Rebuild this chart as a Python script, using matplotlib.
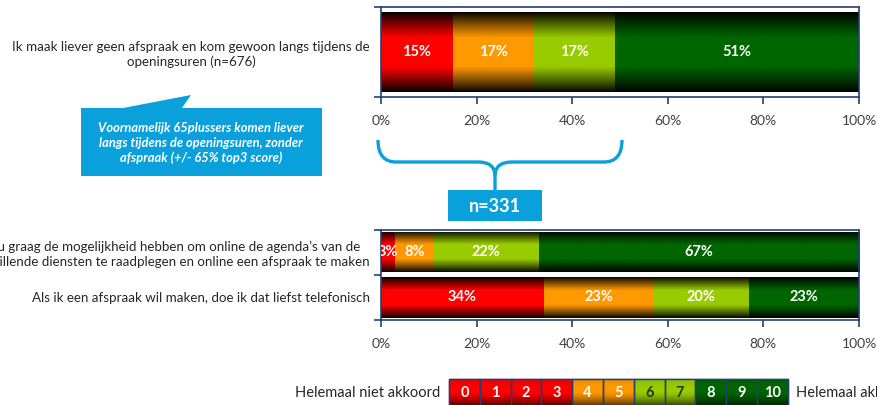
import numpy as np
import matplotlib
matplotlib.use('Agg')
import matplotlib.pyplot as plt
from matplotlib.patches import Rectangle, Polygon, PathPatch
from matplotlib.path import Path

plt.rcParams['font.family'] = ['Lato', 'DejaVu Sans']

# score groups 0-3, 4-5, 6-7, 8-10
group_colors = ['#ff0000', '#ff9900', '#99cc00', '#006600']

top_label = ['Ik maak liever geen afspraak en kom gewoon langs tijdens de\nopeningsuren (n=676)']
top_values = [[15], [17], [17], [51]]

bottom_labels = ["Ik zou graag de mogelijkheid hebben om online de agenda\u2019s van de\n"
                 "verschillende diensten te raadplegen en online een afspraak te maken",
                 'Als ik een afspraak wil maken, doe ik dat liefst telefonisch']
bottom_values = [[3, 34], [8, 23], [22, 20], [67, 23]]

x_ticks = [0, 20, 40, 60, 80, 100]
x_ticklabels = ['0%', '20%', '40%', '60%', '80%', '100%']

callout_text = ('Voornamelijk 65plussers komen liever\nlangs tijdens de openingsuren, zonder\n'
                'afspraak (+/- 65% top3 score)')
n_text = 'n=331'

scale_scores = list(range(11))
scale_groups = [0, 0, 0, 0, 1, 1, 2, 2, 3, 3, 3]
scale_left = 'Helemaal niet akkoord'
scale_right = 'Helemaal akkoord'

W, H = 878, 405
spine_col = '#243f73'
blue = '#0aa0dc'
text_col = '#262626'


def bar_shade(n=64):
    t = np.linspace(0, 1, n)
    b = np.clip(np.minimum(t, 1 - t) / 0.32, 0, 1) ** 0.9
    return 0.03 + 0.97 * b


def legend_shade(n=64):
    t = np.linspace(0, 1, n)
    return np.clip(0.92 + 0.08 * np.sin(t * np.pi * 1.2) - 0.55 * np.clip((t - 0.45) / 0.55, 0, 1) ** 1.5, 0, 1)


def shaded_fill(ax, patch, color, shade):
    rgb = np.array(matplotlib.colors.to_rgb(color))
    img = shade[:, None, None] * rgb[None, None, :]
    x, y = patch.get_x(), patch.get_y()
    w, h = patch.get_width(), patch.get_height()
    im = ax.imshow(img, extent=(x, x + w, y + h, y), aspect='auto',
                   interpolation='bilinear', zorder=patch.get_zorder() + 0.1)
    im.set_clip_path(patch)


def stacked(ax, labels, values):
    n = len(labels)
    left = np.zeros(n)
    pos = np.arange(n)
    for vals, col in zip(values, group_colors):
        vals = np.array(vals, dtype=float)
        bars = ax.barh(pos, vals, left=left, height=0.88 if n == 1 else 0.9,
                       color=col, edgecolor='none', zorder=2)
        for p, v in zip(bars.patches, vals):
            shaded_fill(ax, p, col, bar_shade())
            ax.text(p.get_x() + p.get_width() / 2, p.get_y() + p.get_height() / 2,
                    f'{v:.0f}%', ha='center', va='center', color='white',
                    fontsize=10.5, fontweight='bold', zorder=5, clip_on=True)
        left += vals
    ax.set_xlim(0, 100)
    ax.set_ylim(n - 0.5, -0.5)
    ax.set_xticks(x_ticks)
    ax.set_xticklabels(x_ticklabels, color='#404040', fontsize=10)
    ax.set_yticks(np.arange(n + 1) - 0.5)
    ax.set_yticklabels([])
    ax.set_yticks(pos, minor=True)
    ax.set_yticklabels(labels, minor=True, fontsize=9.6, color=text_col)
    for lab in ax.get_yticklabels(minor=True):
        lab.set_multialignment('center')
        lab.set_linespacing(1.3)
    ax.tick_params(axis='y', which='minor', length=0, pad=8)
    ax.tick_params(axis='y', which='major', length=5, color=spine_col, width=1.2)
    ax.tick_params(axis='x', length=5, color=spine_col, width=1.2, pad=8)
    for s in ax.spines.values():
        s.set_color(spine_col)
        s.set_linewidth(1.2)


fig = plt.figure(figsize=(W / 100, H / 100), dpi=100)

# full-figure layer in pixel units for callout, brace and scale legend
ov = fig.add_axes([0, 0, 1, 1], zorder=0)
ov.set_xlim(0, W)
ov.set_ylim(H, 0)
ov.axis('off')

ax1 = fig.add_axes([381 / W, 1 - 97 / H, 478 / W, 90 / H], zorder=1)
stacked(ax1, top_label, top_values)

ax2 = fig.add_axes([381 / W, 1 - 320 / H, 478 / W, 90.5 / H], zorder=1)
stacked(ax2, bottom_labels, bottom_values)

# callout
ov.add_patch(Polygon([(81, 108), (123, 108), (191, 95), (182, 108), (322, 108),
                      (322, 176), (81, 176)], closed=True, facecolor=blue,
                     edgecolor='none'))
ov.text(201, 143, callout_text, ha='center', va='center', color='white',
        fontsize=9.3, fontweight='bold', style='italic', linespacing=1.3)

# brace
verts = [(378, 140), (378, 162), (396, 162),
         (478, 162), (495, 162), (495, 176), (495, 190)]
codes = [Path.MOVETO, Path.CURVE3, Path.CURVE3, Path.LINETO, Path.CURVE3, Path.CURVE3, Path.LINETO]
ov.add_patch(PathPatch(Path(verts, codes), facecolor='none', edgecolor=blue, lw=2.4))
verts_r = [(622, 140), (622, 162), (604, 162),
           (512, 162), (495, 162), (495, 176)]
codes_r = [Path.MOVETO, Path.CURVE3, Path.CURVE3, Path.LINETO, Path.CURVE3, Path.CURVE3]
ov.add_patch(PathPatch(Path(verts_r, codes_r), facecolor='none', edgecolor=blue, lw=2.4))
ov.add_patch(Rectangle((448, 190), 94, 31, facecolor=blue, edgecolor='none'))
ov.text(495, 206, n_text, ha='center', va='center', color='white',
        fontsize=13, fontweight='bold')

# score scale
x0, cw, y0, ch = 449, 30.8, 379, 27
for i, (s, g) in enumerate(zip(scale_scores, scale_groups)):
    r = Rectangle((x0 + i * cw, y0), cw, ch, facecolor=group_colors[g],
                  edgecolor=spine_col, lw=1.0, zorder=2)
    ov.add_patch(r)
    shaded_fill(ov, r, group_colors[g], legend_shade())
    ov.add_patch(Rectangle((x0 + i * cw, y0), cw, ch, facecolor='none',
                           edgecolor=spine_col, lw=1.0, zorder=3))
    ov.text(x0 + (i + 0.5) * cw, y0 + 14, str(s), ha='center', va='center',
            color='#1f3a1f' if g == 2 else 'white', fontsize=10.5, fontweight='bold', zorder=4)
ov.set_xlim(0, W)
ov.set_ylim(H, 0)
ov.text(440, 393, scale_left, ha='right', va='center', fontsize=10.5, color=text_col)
ov.text(796, 393, scale_right, ha='left', va='center', fontsize=10.5, color=text_col)

fig.savefig('out.png', dpi=100)
